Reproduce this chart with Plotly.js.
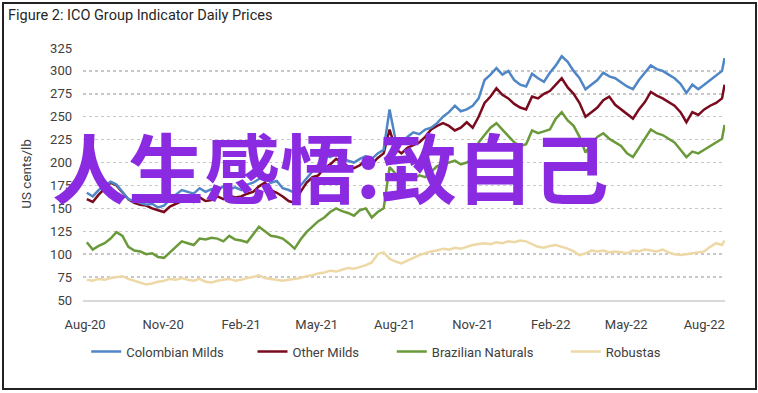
<!DOCTYPE html>
<html>
<head>
<meta charset="utf-8">
<script src="https://cdn.plot.ly/plotly-3.0.1.min.js"></script>
<style>
html,body{margin:0;padding:0;background:#fff;}
#wrap{position:relative;width:758px;height:393px;}
#chart{position:absolute;left:0;top:0;width:758px;height:393px;}
#frame{position:absolute;left:2px;top:2px;width:751px;height:384px;border:2px solid #222;pointer-events:none;}
</style>
</head>
<body>
<div id="wrap"><div id="chart"></div><div id="frame"></div></div>
<script>
// Weekly dates (Mondays) from 3 Aug 2020, plus final day
const startDate = new Date(Date.UTC(2020, 7, 3));
const weekCount = 108;
const dates = [];
for (let k = 0; k < weekCount; k++) {
  const d = new Date(startDate.getTime() + k * 7 * 86400000);
  dates.push(d.toISOString().slice(0, 10));
}
dates.push('2022-08-25');

const colombianMilds = [
  167,163,170,175,179,176,168,160,158,156,154,155,151,153,160,165,170,168,166,172,
  168,171,169,174,171,173,170,176,178,182,186,178,180,172,170,167,175,183,190,198,
  208,206,210,205,202,200,204,207,204,210,214,258,225,222,228,233,231,236,238,243,
  250,255,262,256,258,262,270,290,296,303,296,300,290,285,283,297,292,288,298,306,
  316,310,300,292,280,285,290,298,294,292,287,283,280,290,298,306,302,300,296,292,
  286,276,285,280,285,290,296,300,314
];
const otherMilds = [
  160,157,165,172,178,175,168,160,156,154,153,150,148,146,152,155,158,160,157,162,
  158,159,163,160,164,162,163,166,168,174,178,170,167,163,158,156,168,178,184,186,
  194,198,204,200,196,194,197,203,198,205,210,236,215,210,216,219,222,228,236,240,
  243,240,235,238,244,238,250,265,272,281,274,270,264,260,258,272,270,275,278,285,
  292,282,275,265,250,255,260,268,272,263,258,252,248,258,266,277,273,270,266,262,
  255,244,255,252,258,262,265,270,285
];
const brazilianNaturals = [
  113,105,109,112,117,124,120,108,104,103,100,101,97,96,102,108,114,112,110,117,
  116,118,117,114,120,116,115,113,122,130,125,120,119,117,112,106,116,124,130,136,
  140,146,150,147,145,142,148,150,140,146,150,195,188,180,184,182,186,184,190,196,
  198,200,202,198,200,204,222,230,238,243,236,230,222,218,220,235,232,234,236,248,
  255,246,240,228,211,220,228,232,226,222,218,210,206,216,226,236,232,230,226,222,
  214,206,212,210,214,218,222,226,241
];
const robustas = [
  72,71,73,72,74,75,76,73,71,69,67,68,70,71,73,72,74,72,71,73,
  70,69,71,72,73,71,72,74,75,77,74,73,72,71,72,73,74,76,77,79,
  80,82,81,83,85,84,86,88,91,100,102,95,92,90,93,96,99,101,103,104,
  106,105,107,106,108,110,111,112,111,113,112,114,113,115,114,111,108,107,109,110,
  108,106,103,99,101,104,103,104,102,103,102,101,104,103,105,104,103,105,102,100,
  99,100,101,102,103,108,112,110,115
];

const seriesNames = ['Colombian Milds', 'Other Milds', 'Brazilian Naturals', 'Robustas'];
const seriesColors = ['#4F86C6', '#7A0A1E', '#6B9A3A', '#EED8A6'];
const seriesValues = [colombianMilds, otherMilds, brazilianNaturals, robustas];

const xTickVals = ['2020-08-01','2020-11-01','2021-02-01','2021-05-01','2021-08-01','2021-11-01','2022-02-01','2022-05-01','2022-08-01'];
const xTickText = ['Aug-20','Nov-20','Feb-21','May-21','Aug-21','Nov-21','Feb-22','May-22','Aug-22'];
const yTickVals = [50,75,100,125,150,175,200,225,250,275,300,325];

const FONT = 'Roboto, "Liberation Sans", sans-serif';
const legendNames = ['legend', 'legend2', 'legend3', 'legend4'];
const legendX = [0.005, 0.264, 0.481, 0.752];

const traces = [];
// draw Robustas first so others sit above
for (let i = seriesNames.length - 1; i >= 0; i--) {
  traces.push({
    type: 'scatter', mode: 'lines',
    x: dates, y: seriesValues[i],
    name: seriesNames[i],
    line: {color: seriesColors[i], width: 2.5},
    legend: legendNames[i],
    hoverinfo: 'skip'
  });
}

const layout = {
  width: 758, height: 393,
  margin: {l: 83, r: 33, t: 48, b: 93},
  paper_bgcolor: '#ffffff', plot_bgcolor: '#ffffff',
  font: {family: FONT, size: 13, color: '#404040'},
  title: {text: 'Figure 2: ICO Group Indicator Daily Prices', x: 0.0106, xanchor: 'left', xref: 'container',
          y: 0.962, yanchor: 'middle', yref: 'container',
          font: {family: FONT, size: 14.5, color: '#262626'}},
  showlegend: true,
  xaxis: {
    type: 'date', range: ['2020-07-29 12:00', '2022-08-25 12:00'],
    tickvals: xTickVals, ticktext: xTickText,
    showgrid: false, zeroline: false,
    showline: true, linecolor: '#d9d9d9', linewidth: 2,
    ticks: '', ticklabelstandoff: 11,
    tickfont: {family: FONT, size: 13, color: '#404040'}
  },
  yaxis: {
    range: [50, 325], tickvals: yTickVals,
    showgrid: true, gridcolor: '#c8c8c8', griddash: 'dot', gridwidth: 1.5,
    zeroline: false, showline: false, ticks: '', ticklabelstandoff: 10,
    tickfont: {family: FONT, size: 13, color: '#404040'},
    title: {text: 'US cents/lb', font: {family: FONT, size: 13.5, color: '#404040'}, standoff: 15}
  },
  annotations: [{
    text: '人生感悟:致自己', xref: 'paper', yref: 'paper', x: 0.385, y: 0.535,
    xanchor: 'center', yanchor: 'middle', showarrow: false,
    font: {family: '"Noto Sans CJK SC", sans-serif', size: 76, color: '#8A2BE2', weight: 'bold'}
  }]
};
legendNames.forEach((ln, i) => {
  layout[ln] = {
    x: legendX[i], xanchor: 'left', y: -0.205, yanchor: 'middle',
    orientation: 'h', bgcolor: 'rgba(0,0,0,0)',
    font: {family: FONT, size: 13, color: '#404040'}
  };
});

Plotly.newPlot('chart', traces, layout, {staticPlot: true, displayModeBar: false});
</script>
</body>
</html>
